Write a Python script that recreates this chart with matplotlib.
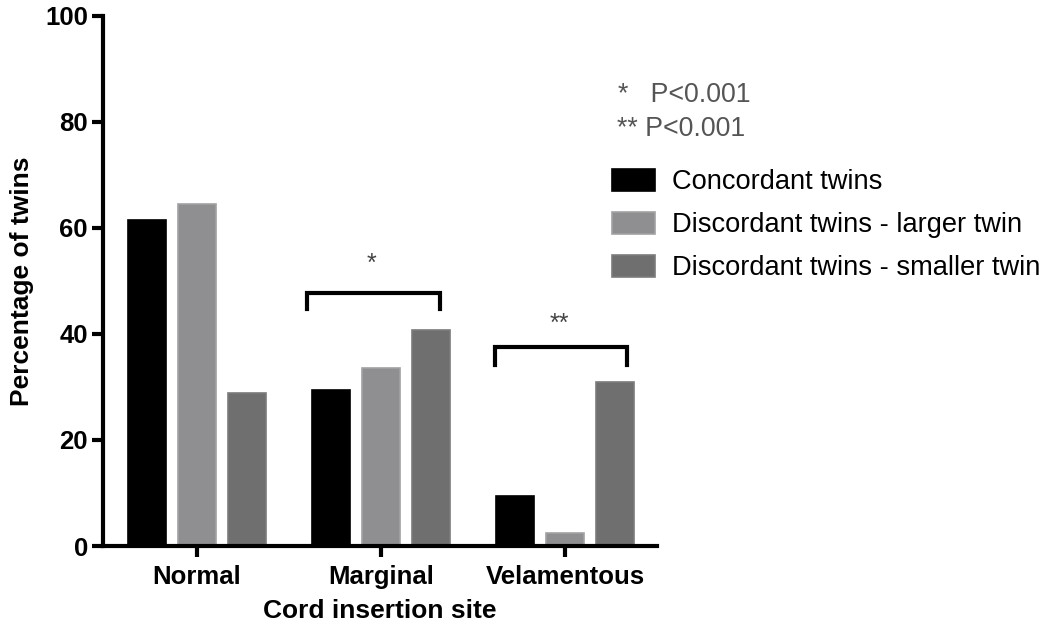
import matplotlib.pyplot as plt
import numpy as np

plt.rcParams['font.family'] = ['Liberation Sans', 'DejaVu Sans']

# data
sites = ['Normal', 'Marginal', 'Velamentous']
series_names = ['Concordant twins', 'Discordant twins - larger twin',
                'Discordant twins - smaller twin']
concordant = [61.5, 29.5, 9.5]
larger_twin = [64.5, 33.5, 2.5]
smaller_twin = [28.8, 40.7, 31.0]
colors = ['#000000', '#8f8f92', '#6f6f6f']
edges = ['#000000', '#a2a2a4', '#7c7c7c']

fig = plt.figure(figsize=(10.45, 6.34), dpi=100)
ax = fig.add_axes([0.0986, 0.1388, 0.530, 0.836])

x = np.arange(len(sites))
slot = 0.272
width = 0.205
bars = []
for i, (vals, c, ec) in enumerate(zip([concordant, larger_twin, smaller_twin], colors, edges)):
    b = ax.bar(x + (i - 1) * slot, vals, width, color=c, edgecolor=ec, linewidth=1.2,
               label=series_names[i], zorder=2)
    bars.append(b)

ax.set_xlim(-0.511, 2.5)
ax.set_ylim(0, 100)
ax.set_yticks([0, 20, 40, 60, 80, 100])
ax.set_xticks(x)
ax.set_xticklabels(sites)

for s in ['top', 'right']:
    ax.spines[s].set_visible(False)
for s in ['left', 'bottom']:
    ax.spines[s].set_linewidth(3)
ax.tick_params(width=3, length=8, labelsize=18.5, pad=3)
ax.tick_params(axis='x', pad=6)
for lab in ax.get_xticklabels() + ax.get_yticklabels():
    lab.set_fontweight('bold')

ax.set_ylabel('Percentage of twins', fontsize=19, fontweight='bold', labelpad=8)
ax.set_xlabel('Cord insertion site', fontsize=19, fontweight='bold', labelpad=7)

# significance brackets
def bracket(x0, x1, y, drop, label, ty, tx):
    ax.plot([x0, x0, x1, x1], [y - drop, y, y, y - drop], color='black',
            lw=3, solid_joinstyle='miter', clip_on=False, zorder=3)
    ax.text(tx, ty, label, ha='center', va='center', fontsize=18, color='#444444')

bracket(0.60, 1.32, 47.7, 3.0, '*', 53.3, 0.95)
bracket(1.62, 2.34, 37.5, 3.3, '**', 42.0, 1.97)

fig.text(0.591, 0.850, '*   P<0.001', fontsize=19.3, color='#555555', va='center')
fig.text(0.590, 0.797, '** P<0.001', fontsize=19.3, color='#555555', va='center')

fig.legend(handles=bars, loc='upper left', bbox_to_anchor=(0.5856, 0.7337),
           frameon=False, fontsize=19.6, handlelength=1.58, handleheight=0.88,
           handletextpad=0.62, labelspacing=0.6, borderpad=0, borderaxespad=0)

fig.savefig('out.png', dpi=100)
